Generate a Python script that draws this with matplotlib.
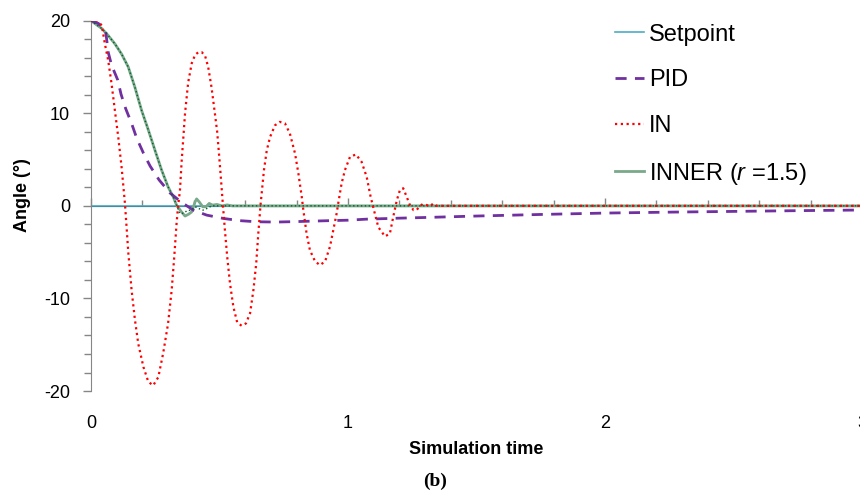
import matplotlib
matplotlib.use("Agg")
import matplotlib.pyplot as plt
from matplotlib.ticker import MultipleLocator, NullFormatter

plt.rcParams['font.family'] = ['Liberation Sans', 'DejaVu Sans']
plt.rcParams['mathtext.fontset'] = 'custom'
plt.rcParams['mathtext.rm'] = 'Liberation Sans'
plt.rcParams['mathtext.it'] = 'Liberation Sans:italic'
plt.rcParams['axes.unicode_minus'] = False

# values
setpoint_t = [0, 3.0]
setpoint_y = [0, 0]

pid_t = [0, 0.029, 0.057, 0.067, 0.08, 0.104, 0.117, 0.135, 0.158, 0.178, 0.204,
         0.23, 0.265, 0.307, 0.353, 0.398, 0.45, 0.515, 0.58, 0.644, 0.72, 0.8,
         0.9, 1.0, 1.07, 1.2, 1.31, 1.5, 1.75, 2.0, 2.25, 2.5, 2.75, 3.0]
pid_y = [20, 19.7, 18.9, 16.6, 15.2, 13.6, 12.05, 10.5, 8.9, 7.3, 5.7,
         4.3, 2.8, 1.4, 0.37, -0.46, -1.0, -1.36, -1.6, -1.72, -1.75, -1.7,
         -1.62, -1.55, -1.44, -1.33, -1.25, -1.1, -0.93, -0.78, -0.68, -0.6, -0.52, -0.45]

in_t = [0, 0.016, 0.042, 0.054, 0.067, 0.08, 0.093, 0.106, 0.119, 0.132, 0.139,
        0.145, 0.158, 0.171, 0.184, 0.204, 0.223, 0.242, 0.262, 0.281, 0.3,
        0.314, 0.324, 0.333, 0.339, 0.346, 0.353, 0.366, 0.378, 0.392, 0.405,
        0.418, 0.431, 0.444, 0.456, 0.469, 0.482, 0.491, 0.499, 0.506, 0.513,
        0.521, 0.53, 0.541, 0.554, 0.569, 0.586, 0.603, 0.619, 0.632, 0.643,
        0.651, 0.66, 0.664, 0.673, 0.684, 0.697, 0.716, 0.735, 0.755, 0.774,
        0.794, 0.807, 0.82, 0.826, 0.839, 0.852, 0.872, 0.891, 0.911, 0.93,
        0.943, 0.956, 0.962, 0.975, 0.988, 1.008, 1.031, 1.053, 1.073, 1.088,
        1.101, 1.118, 1.144, 1.163, 1.176, 1.19, 1.202, 1.215, 1.228, 1.241,
        1.255, 1.267, 1.277, 1.291, 1.305, 1.319, 1.332, 1.345, 3.0]
in_y = [20, 20.2, 19.5, 17.5, 15.7, 13.2, 10.3, 7.45, 4.2, 0.3, -2.5,
        -5.0, -9.1, -12.3, -14.9, -17.4, -19.0, -19.4, -18.5, -15.9, -12.7,
        -9.1, -5.5, -1.9, 0.0, 1.6, 4.9, 10.0, 13.3, 15.4, 16.3,
        16.6, 16.6, 16.2, 15.0, 12.8, 10.0, 8.0, 5.3, 2.8, 0.2,
        -2.6, -5.5, -8.4, -10.9, -12.6, -12.95, -12.7, -11.6, -9.1, -6.2,
        -3.0, 0.2, 1.3, 3.85, 6.0, 7.45, 8.7, 9.07, 8.9, 7.8,
        5.65, 3.5, 1.0, -0.4, -3.0, -4.8, -6.0, -6.4, -6.0, -4.4,
        -2.6, -0.8, 0.26, 2.4, 3.85, 5.3, 5.55, 4.75, 3.1, 1.0,
        -0.46, -2.3, -3.3, -3.0, -1.2, 0.6, 1.7, 1.9, 1.0, 0.08,
        -0.46, -0.46, -0.1, 0.2, 0.1, -0.05, 0.26, 0.0, 0.0]

inner_t = [0, 0.042, 0.067, 0.093, 0.119, 0.145, 0.171, 0.197, 0.223, 0.249, 0.275,
           0.3, 0.32, 0.333, 0.352, 0.366, 0.38, 0.392, 0.405, 0.411, 0.421,
           0.435, 0.447, 0.46, 0.473, 0.49, 0.51, 0.53, 0.55, 0.6, 3.0]
inner_y = [20, 19.15, 18.4, 17.5, 16.4, 15.0, 12.8, 10.3, 8.2, 6.0, 3.85,
           2.05, 0.97, 0.08, -0.65, -1.1, -0.9, -0.65, 0.43, 0.75, 0.43,
           -0.1, -0.1, 0.26, 0.08, 0.15, 0.0, 0.1, 0.0, 0.0, 0.0]

# dark dotted trace lying over INNER (no legend entry in the reference)
inner2_t = [0, 0.042, 0.067, 0.093, 0.119, 0.145, 0.171, 0.197, 0.223, 0.249, 0.275,
            0.3, 0.32, 0.333, 0.345, 0.36, 0.375, 0.39, 0.405, 0.42, 0.436,
            0.45, 0.47, 3.0]
inner2_y = [20, 19.15, 18.4, 17.5, 16.4, 15.0, 12.8, 10.3, 8.2, 6.0, 3.85,
            2.05, 0.97, 0.08, -0.8, -0.8, -0.5, -0.46, -0.1, -0.3, -0.46,
            -0.3, 0.0, 0.0]

fig = plt.figure(figsize=(8.6, 4.9), dpi=100)
ax = fig.add_axes([0.1058, 0.202, 0.8965, 0.7558])

ax.plot(setpoint_t, setpoint_y, color='#4bacc6', lw=1.2, label='Setpoint', zorder=2)
ax.plot(inner_t, inner_y, color='#7aa88a', lw=2.0, label='INNER ($r$ =1.5)', zorder=3)
ax.plot(pid_t, pid_y, color='#7030a0', lw=2, ls=(0, (4, 3)), label='PID', zorder=4)
ax.plot(inner2_t, inner2_y, color='#00602b', lw=1.0, ls=(0, (1, 1.8)), zorder=5)
ax.plot(in_t, in_y, color='#ff0000', lw=1.6, ls=(0, (1, 1.6)), label='IN', zorder=6)

ax.set_xlim(0, 3)
ax.set_ylim(-20, 20)

for s in ['top', 'right', 'bottom']:
    ax.spines[s].set_visible(False)
ax.spines['left'].set_color('#868686')

ax.yaxis.set_major_locator(MultipleLocator(10))
ax.yaxis.set_minor_locator(MultipleLocator(2))
ax.tick_params(axis='y', which='major', length=6, width=1, color='#868686',
               labelsize=13, pad=9)
ax.tick_params(axis='y', which='minor', length=5, width=1, color='#868686')

ax.xaxis.set_major_locator(MultipleLocator(1))
ax.tick_params(axis='x', which='both', length=0, labelsize=13, pad=17)

# horizontal axis crossing at zero, Excel style
sec = ax.secondary_xaxis(0.5)
sec.spines['bottom'].set_color('#868686')
sec.xaxis.set_major_locator(MultipleLocator(1))
sec.xaxis.set_minor_locator(MultipleLocator(0.2))
sec.xaxis.set_major_formatter(NullFormatter())
sec.tick_params(which='major', length=6, width=1, color='#868686')
sec.tick_params(which='minor', length=4.5, width=1, color='#868686')

ax.set_xlabel('Simulation time', fontsize=13, fontweight='bold', labelpad=7)
ax.set_ylabel('Angle (°)', fontsize=13, fontweight='bold')
ax.yaxis.set_label_coords(-0.078, 0.53)

handles, labels = ax.get_legend_handles_labels()
order = [0, 2, 3, 1]
leg = fig.legend([handles[i] for i in order], [labels[i] for i in order],
                 loc='upper left', bbox_to_anchor=(0.69, 0.995), frameon=False,
                 fontsize=17, handlelength=1.25, handletextpad=0.2, labelspacing=1.0)

fig.text(0.506, 0.008, '(b)', fontsize=14, fontweight='bold',
         family=['Liberation Serif', 'DejaVu Serif'], ha='center')

fig.savefig('out.png', dpi=100)
